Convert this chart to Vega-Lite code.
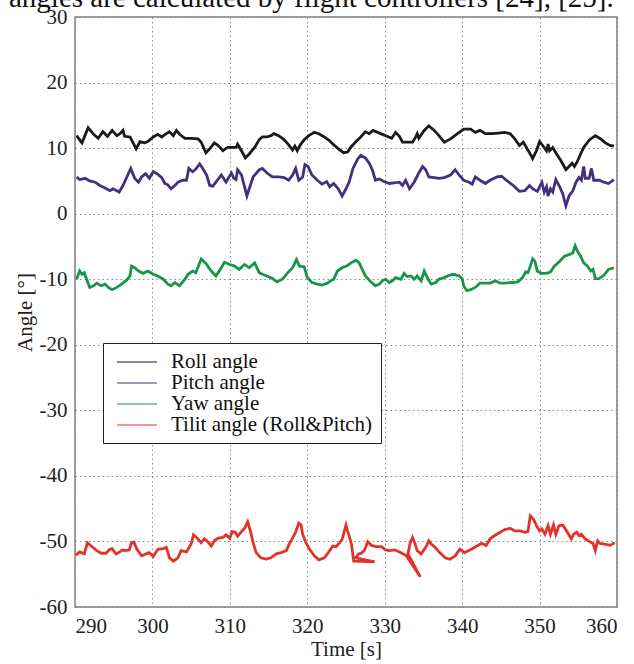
{
  "$schema": "https://vega.github.io/schema/vega-lite/v6.json",
  "width": 542,
  "height": 590,
  "autosize": {"type": "none"},
  "padding": {"left": 75, "top": 17, "right": 17, "bottom": 57},
  "title": {"text": "angles are calculated by flight controllers [24], [25].", "anchor": "start", "frame": "group", "dx": -66, "offset": -30, "baseline": "alphabetic", "fontSize": 29, "font": "Liberation Serif", "fontWeight": "normal", "color": "#111"},
  "data": {"values": [
    {"s":"Roll angle","t":290.2,"v":11.9},{"s":"Roll angle","t":290.9,"v":10.8},{"s":"Roll angle","t":291.7,"v":13.1},{"s":"Roll angle","t":292.4,"v":12.1},{"s":"Roll angle","t":293.0,"v":11.5},{"s":"Roll angle","t":293.6,"v":12.5},{"s":"Roll angle","t":294.2,"v":11.8},{"s":"Roll angle","t":294.8,"v":12.7},{"s":"Roll angle","t":295.4,"v":11.9},{"s":"Roll angle","t":295.8,"v":12.2},{"s":"Roll angle","t":296.2,"v":12.7},{"s":"Roll angle","t":296.4,"v":11.8},{"s":"Roll angle","t":297.1,"v":11.7},{"s":"Roll angle","t":297.9,"v":9.9},{"s":"Roll angle","t":298.4,"v":11.0},{"s":"Roll angle","t":299.0,"v":10.8},{"s":"Roll angle","t":299.4,"v":11.0},{"s":"Roll angle","t":300.1,"v":11.7},{"s":"Roll angle","t":300.7,"v":12.1},{"s":"Roll angle","t":301.2,"v":11.7},{"s":"Roll angle","t":301.8,"v":12.2},{"s":"Roll angle","t":302.2,"v":12.5},{"s":"Roll angle","t":302.7,"v":11.9},{"s":"Roll angle","t":303.1,"v":12.7},{"s":"Roll angle","t":303.5,"v":12.1},{"s":"Roll angle","t":304.2,"v":11.5},{"s":"Roll angle","t":305.0,"v":11.5},{"s":"Roll angle","t":305.9,"v":11.4},{"s":"Roll angle","t":306.3,"v":10.9},{"s":"Roll angle","t":306.9,"v":9.3},{"s":"Roll angle","t":307.4,"v":9.9},{"s":"Roll angle","t":308.0,"v":10.8},{"s":"Roll angle","t":308.5,"v":10.4},{"s":"Roll angle","t":309.1,"v":9.6},{"s":"Roll angle","t":309.7,"v":10.1},{"s":"Roll angle","t":310.8,"v":10.1},{"s":"Roll angle","t":311.0,"v":10.6},{"s":"Roll angle","t":311.5,"v":9.6},{"s":"Roll angle","t":312.0,"v":8.5},{"s":"Roll angle","t":312.5,"v":9.1},{"s":"Roll angle","t":313.2,"v":10.1},{"s":"Roll angle","t":313.8,"v":11.3},{"s":"Roll angle","t":314.2,"v":11.7},{"s":"Roll angle","t":314.8,"v":11.7},{"s":"Roll angle","t":315.3,"v":11.9},{"s":"Roll angle","t":315.7,"v":12.2},{"s":"Roll angle","t":316.3,"v":11.9},{"s":"Roll angle","t":317.0,"v":11.3},{"s":"Roll angle","t":317.6,"v":10.5},{"s":"Roll angle","t":318.1,"v":9.7},{"s":"Roll angle","t":318.4,"v":10.3},{"s":"Roll angle","t":318.7,"v":9.6},{"s":"Roll angle","t":319.1,"v":10.5},{"s":"Roll angle","t":319.6,"v":11.3},{"s":"Roll angle","t":320.2,"v":11.9},{"s":"Roll angle","t":320.9,"v":12.4},{"s":"Roll angle","t":321.5,"v":12.2},{"s":"Roll angle","t":322.2,"v":11.7},{"s":"Roll angle","t":322.8,"v":11.2},{"s":"Roll angle","t":323.4,"v":10.5},{"s":"Roll angle","t":324.1,"v":9.8},{"s":"Roll angle","t":324.7,"v":9.3},{"s":"Roll angle","t":325.2,"v":9.4},{"s":"Roll angle","t":325.6,"v":10.1},{"s":"Roll angle","t":326.3,"v":11.0},{"s":"Roll angle","t":326.9,"v":11.7},{"s":"Roll angle","t":327.5,"v":12.5},{"s":"Roll angle","t":328.0,"v":12.2},{"s":"Roll angle","t":328.5,"v":12.7},{"s":"Roll angle","t":329.1,"v":12.4},{"s":"Roll angle","t":329.7,"v":12.1},{"s":"Roll angle","t":330.3,"v":11.8},{"s":"Roll angle","t":330.9,"v":11.5},{"s":"Roll angle","t":331.4,"v":12.4},{"s":"Roll angle","t":331.9,"v":11.8},{"s":"Roll angle","t":332.3,"v":10.9},{"s":"Roll angle","t":332.9,"v":10.9},{"s":"Roll angle","t":333.6,"v":10.9},{"s":"Roll angle","t":334.0,"v":11.7},{"s":"Roll angle","t":334.2,"v":12.2},{"s":"Roll angle","t":334.4,"v":11.5},{"s":"Roll angle","t":335.1,"v":12.7},{"s":"Roll angle","t":335.7,"v":13.4},{"s":"Roll angle","t":336.4,"v":12.7},{"s":"Roll angle","t":337.0,"v":11.9},{"s":"Roll angle","t":337.7,"v":10.9},{"s":"Roll angle","t":338.5,"v":11.4},{"s":"Roll angle","t":339.4,"v":12.2},{"s":"Roll angle","t":340.2,"v":12.9},{"s":"Roll angle","t":341.1,"v":12.9},{"s":"Roll angle","t":341.7,"v":12.4},{"s":"Roll angle","t":342.3,"v":12.7},{"s":"Roll angle","t":343.0,"v":12.2},{"s":"Roll angle","t":343.8,"v":12.2},{"s":"Roll angle","t":344.7,"v":12.3},{"s":"Roll angle","t":345.5,"v":12.4},{"s":"Roll angle","t":346.2,"v":12.2},{"s":"Roll angle","t":346.8,"v":11.4},{"s":"Roll angle","t":347.4,"v":10.4},{"s":"Roll angle","t":347.9,"v":10.9},{"s":"Roll angle","t":348.3,"v":10.1},{"s":"Roll angle","t":348.7,"v":9.3},{"s":"Roll angle","t":349.1,"v":8.4},{"s":"Roll angle","t":349.6,"v":9.6},{"s":"Roll angle","t":350.0,"v":11.0},{"s":"Roll angle","t":350.4,"v":10.4},{"s":"Roll angle","t":350.9,"v":9.6},{"s":"Roll angle","t":351.1,"v":10.6},{"s":"Roll angle","t":351.3,"v":9.6},{"s":"Roll angle","t":351.7,"v":10.1},{"s":"Roll angle","t":352.1,"v":9.3},{"s":"Roll angle","t":352.8,"v":8.0},{"s":"Roll angle","t":353.4,"v":6.7},{"s":"Roll angle","t":353.8,"v":7.2},{"s":"Roll angle","t":354.2,"v":7.7},{"s":"Roll angle","t":354.5,"v":7.2},{"s":"Roll angle","t":354.9,"v":8.0},{"s":"Roll angle","t":355.3,"v":9.1},{"s":"Roll angle","t":355.7,"v":10.1},{"s":"Roll angle","t":356.4,"v":11.2},{"s":"Roll angle","t":357.2,"v":11.9},{"s":"Roll angle","t":357.9,"v":11.4},{"s":"Roll angle","t":358.5,"v":10.8},{"s":"Roll angle","t":359.1,"v":10.4},{"s":"Roll angle","t":359.6,"v":10.3},
    {"s":"Pitch angle","t":290.2,"v":5.6},{"s":"Pitch angle","t":290.6,"v":5.2},{"s":"Pitch angle","t":291.3,"v":5.4},{"s":"Pitch angle","t":291.9,"v":5.0},{"s":"Pitch angle","t":292.6,"v":4.8},{"s":"Pitch angle","t":293.2,"v":4.3},{"s":"Pitch angle","t":293.9,"v":3.9},{"s":"Pitch angle","t":294.5,"v":3.5},{"s":"Pitch angle","t":294.9,"v":3.8},{"s":"Pitch angle","t":295.4,"v":3.5},{"s":"Pitch angle","t":295.7,"v":3.3},{"s":"Pitch angle","t":296.2,"v":4.3},{"s":"Pitch angle","t":296.7,"v":5.6},{"s":"Pitch angle","t":297.2,"v":6.9},{"s":"Pitch angle","t":297.7,"v":5.4},{"s":"Pitch angle","t":298.2,"v":4.8},{"s":"Pitch angle","t":298.6,"v":5.6},{"s":"Pitch angle","t":299.1,"v":6.1},{"s":"Pitch angle","t":299.6,"v":5.4},{"s":"Pitch angle","t":300.1,"v":6.4},{"s":"Pitch angle","t":300.6,"v":6.1},{"s":"Pitch angle","t":301.2,"v":5.5},{"s":"Pitch angle","t":301.6,"v":4.6},{"s":"Pitch angle","t":302.0,"v":4.4},{"s":"Pitch angle","t":302.4,"v":3.8},{"s":"Pitch angle","t":302.9,"v":4.3},{"s":"Pitch angle","t":303.3,"v":4.8},{"s":"Pitch angle","t":303.9,"v":5.1},{"s":"Pitch angle","t":304.4,"v":5.1},{"s":"Pitch angle","t":304.7,"v":6.9},{"s":"Pitch angle","t":305.2,"v":6.4},{"s":"Pitch angle","t":305.6,"v":6.8},{"s":"Pitch angle","t":306.1,"v":7.6},{"s":"Pitch angle","t":306.5,"v":6.9},{"s":"Pitch angle","t":307.0,"v":5.9},{"s":"Pitch angle","t":307.4,"v":4.3},{"s":"Pitch angle","t":307.8,"v":4.2},{"s":"Pitch angle","t":308.2,"v":4.8},{"s":"Pitch angle","t":308.9,"v":5.9},{"s":"Pitch angle","t":309.5,"v":4.8},{"s":"Pitch angle","t":310.2,"v":6.2},{"s":"Pitch angle","t":310.5,"v":5.4},{"s":"Pitch angle","t":310.8,"v":5.2},{"s":"Pitch angle","t":311.0,"v":6.7},{"s":"Pitch angle","t":311.5,"v":5.9},{"s":"Pitch angle","t":311.9,"v":4.1},{"s":"Pitch angle","t":312.2,"v":2.7},{"s":"Pitch angle","t":312.5,"v":3.8},{"s":"Pitch angle","t":313.0,"v":5.6},{"s":"Pitch angle","t":313.8,"v":6.7},{"s":"Pitch angle","t":314.2,"v":6.9},{"s":"Pitch angle","t":314.8,"v":6.2},{"s":"Pitch angle","t":315.5,"v":5.6},{"s":"Pitch angle","t":316.3,"v":5.6},{"s":"Pitch angle","t":317.0,"v":5.5},{"s":"Pitch angle","t":317.6,"v":5.1},{"s":"Pitch angle","t":318.1,"v":5.9},{"s":"Pitch angle","t":318.5,"v":6.9},{"s":"Pitch angle","t":318.9,"v":5.1},{"s":"Pitch angle","t":319.4,"v":5.6},{"s":"Pitch angle","t":319.7,"v":7.5},{"s":"Pitch angle","t":320.1,"v":7.2},{"s":"Pitch angle","t":320.6,"v":5.9},{"s":"Pitch angle","t":321.3,"v":5.1},{"s":"Pitch angle","t":321.9,"v":4.5},{"s":"Pitch angle","t":322.5,"v":4.9},{"s":"Pitch angle","t":322.9,"v":4.1},{"s":"Pitch angle","t":323.4,"v":4.6},{"s":"Pitch angle","t":324.0,"v":3.8},{"s":"Pitch angle","t":324.5,"v":2.7},{"s":"Pitch angle","t":325.0,"v":3.8},{"s":"Pitch angle","t":325.4,"v":4.8},{"s":"Pitch angle","t":325.9,"v":6.9},{"s":"Pitch angle","t":326.5,"v":8.3},{"s":"Pitch angle","t":326.9,"v":8.9},{"s":"Pitch angle","t":327.5,"v":8.5},{"s":"Pitch angle","t":328.0,"v":7.7},{"s":"Pitch angle","t":328.4,"v":6.7},{"s":"Pitch angle","t":328.8,"v":5.1},{"s":"Pitch angle","t":329.3,"v":5.3},{"s":"Pitch angle","t":329.9,"v":4.9},{"s":"Pitch angle","t":330.6,"v":4.6},{"s":"Pitch angle","t":331.2,"v":4.7},{"s":"Pitch angle","t":331.9,"v":4.8},{"s":"Pitch angle","t":332.3,"v":4.3},{"s":"Pitch angle","t":332.7,"v":5.1},{"s":"Pitch angle","t":333.2,"v":3.8},{"s":"Pitch angle","t":333.8,"v":4.8},{"s":"Pitch angle","t":334.4,"v":6.2},{"s":"Pitch angle","t":334.9,"v":7.2},{"s":"Pitch angle","t":335.3,"v":6.7},{"s":"Pitch angle","t":335.7,"v":5.6},{"s":"Pitch angle","t":336.4,"v":5.5},{"s":"Pitch angle","t":337.0,"v":5.4},{"s":"Pitch angle","t":337.7,"v":5.5},{"s":"Pitch angle","t":338.5,"v":5.9},{"s":"Pitch angle","t":339.1,"v":6.7},{"s":"Pitch angle","t":339.6,"v":5.9},{"s":"Pitch angle","t":340.2,"v":5.1},{"s":"Pitch angle","t":340.9,"v":4.8},{"s":"Pitch angle","t":341.3,"v":4.5},{"s":"Pitch angle","t":341.7,"v":5.6},{"s":"Pitch angle","t":342.3,"v":5.1},{"s":"Pitch angle","t":343.0,"v":4.6},{"s":"Pitch angle","t":343.6,"v":5.1},{"s":"Pitch angle","t":344.5,"v":5.6},{"s":"Pitch angle","t":345.1,"v":5.7},{"s":"Pitch angle","t":345.7,"v":5.1},{"s":"Pitch angle","t":346.6,"v":4.3},{"s":"Pitch angle","t":347.4,"v":3.4},{"s":"Pitch angle","t":348.1,"v":3.5},{"s":"Pitch angle","t":348.7,"v":4.3},{"s":"Pitch angle","t":349.1,"v":3.8},{"s":"Pitch angle","t":349.7,"v":3.4},{"s":"Pitch angle","t":350.0,"v":4.1},{"s":"Pitch angle","t":350.3,"v":4.8},{"s":"Pitch angle","t":350.6,"v":3.3},{"s":"Pitch angle","t":350.9,"v":4.1},{"s":"Pitch angle","t":351.1,"v":2.7},{"s":"Pitch angle","t":351.4,"v":3.8},{"s":"Pitch angle","t":351.7,"v":3.3},{"s":"Pitch angle","t":352.1,"v":5.2},{"s":"Pitch angle","t":352.6,"v":4.1},{"s":"Pitch angle","t":353.0,"v":3.0},{"s":"Pitch angle","t":353.4,"v":1.2},{"s":"Pitch angle","t":353.8,"v":2.7},{"s":"Pitch angle","t":354.3,"v":3.5},{"s":"Pitch angle","t":354.7,"v":4.8},{"s":"Pitch angle","t":355.1,"v":5.5},{"s":"Pitch angle","t":355.4,"v":5.1},{"s":"Pitch angle","t":355.7,"v":7.2},{"s":"Pitch angle","t":355.9,"v":5.4},{"s":"Pitch angle","t":356.4,"v":5.4},{"s":"Pitch angle","t":356.7,"v":6.9},{"s":"Pitch angle","t":357.0,"v":5.1},{"s":"Pitch angle","t":357.7,"v":5.1},{"s":"Pitch angle","t":358.3,"v":4.8},{"s":"Pitch angle","t":358.9,"v":4.6},{"s":"Pitch angle","t":359.6,"v":5.2},
    {"s":"Yaw angle","t":290.2,"v":-10.0},{"s":"Yaw angle","t":290.6,"v":-8.75},{"s":"Yaw angle","t":290.9,"v":-9.25},{"s":"Yaw angle","t":291.2,"v":-9.0},{"s":"Yaw angle","t":291.5,"v":-10.0},{"s":"Yaw angle","t":291.9,"v":-11.25},{"s":"Yaw angle","t":292.4,"v":-11.0},{"s":"Yaw angle","t":292.8,"v":-10.6},{"s":"Yaw angle","t":293.4,"v":-11.0},{"s":"Yaw angle","t":293.9,"v":-10.75},{"s":"Yaw angle","t":294.3,"v":-11.25},{"s":"Yaw angle","t":294.8,"v":-11.6},{"s":"Yaw angle","t":295.4,"v":-11.25},{"s":"Yaw angle","t":296.0,"v":-10.75},{"s":"Yaw angle","t":296.7,"v":-10.1},{"s":"Yaw angle","t":297.1,"v":-9.5},{"s":"Yaw angle","t":297.3,"v":-8.0},{"s":"Yaw angle","t":297.7,"v":-8.25},{"s":"Yaw angle","t":298.2,"v":-8.75},{"s":"Yaw angle","t":298.8,"v":-9.1},{"s":"Yaw angle","t":299.4,"v":-8.75},{"s":"Yaw angle","t":300.1,"v":-9.25},{"s":"Yaw angle","t":300.7,"v":-9.5},{"s":"Yaw angle","t":301.4,"v":-10.0},{"s":"Yaw angle","t":302.0,"v":-10.75},{"s":"Yaw angle","t":302.4,"v":-11.0},{"s":"Yaw angle","t":302.9,"v":-10.5},{"s":"Yaw angle","t":303.5,"v":-11.0},{"s":"Yaw angle","t":304.2,"v":-10.0},{"s":"Yaw angle","t":304.6,"v":-9.25},{"s":"Yaw angle","t":305.2,"v":-8.75},{"s":"Yaw angle","t":305.6,"v":-9.0},{"s":"Yaw angle","t":306.3,"v":-6.9},{"s":"Yaw angle","t":306.9,"v":-7.6},{"s":"Yaw angle","t":307.6,"v":-8.75},{"s":"Yaw angle","t":308.2,"v":-9.5},{"s":"Yaw angle","t":308.9,"v":-8.25},{"s":"Yaw angle","t":309.3,"v":-7.4},{"s":"Yaw angle","t":310.0,"v":-7.75},{"s":"Yaw angle","t":310.6,"v":-8.0},{"s":"Yaw angle","t":311.2,"v":-8.5},{"s":"Yaw angle","t":311.9,"v":-7.75},{"s":"Yaw angle","t":312.5,"v":-8.25},{"s":"Yaw angle","t":313.2,"v":-7.5},{"s":"Yaw angle","t":313.8,"v":-9.0},{"s":"Yaw angle","t":314.2,"v":-9.25},{"s":"Yaw angle","t":314.8,"v":-9.5},{"s":"Yaw angle","t":315.5,"v":-9.9},{"s":"Yaw angle","t":316.1,"v":-10.4},{"s":"Yaw angle","t":316.8,"v":-10.0},{"s":"Yaw angle","t":317.4,"v":-9.1},{"s":"Yaw angle","t":318.1,"v":-8.25},{"s":"Yaw angle","t":318.6,"v":-7.0},{"s":"Yaw angle","t":319.0,"v":-8.0},{"s":"Yaw angle","t":319.6,"v":-8.1},{"s":"Yaw angle","t":320.0,"v":-9.75},{"s":"Yaw angle","t":320.6,"v":-10.5},{"s":"Yaw angle","t":321.3,"v":-10.75},{"s":"Yaw angle","t":321.9,"v":-10.9},{"s":"Yaw angle","t":322.6,"v":-10.6},{"s":"Yaw angle","t":323.0,"v":-10.25},{"s":"Yaw angle","t":323.4,"v":-10.0},{"s":"Yaw angle","t":323.9,"v":-8.75},{"s":"Yaw angle","t":324.5,"v":-8.25},{"s":"Yaw angle","t":325.2,"v":-7.9},{"s":"Yaw angle","t":325.8,"v":-7.4},{"s":"Yaw angle","t":326.3,"v":-7.1},{"s":"Yaw angle","t":326.7,"v":-7.5},{"s":"Yaw angle","t":327.1,"v":-8.5},{"s":"Yaw angle","t":327.5,"v":-9.5},{"s":"Yaw angle","t":328.2,"v":-10.4},{"s":"Yaw angle","t":328.8,"v":-11.0},{"s":"Yaw angle","t":329.3,"v":-10.75},{"s":"Yaw angle","t":329.7,"v":-10.25},{"s":"Yaw angle","t":330.1,"v":-10.0},{"s":"Yaw angle","t":330.6,"v":-10.5},{"s":"Yaw angle","t":331.0,"v":-10.25},{"s":"Yaw angle","t":331.4,"v":-9.75},{"s":"Yaw angle","t":332.1,"v":-10.0},{"s":"Yaw angle","t":332.5,"v":-9.1},{"s":"Yaw angle","t":332.9,"v":-9.6},{"s":"Yaw angle","t":333.4,"v":-9.5},{"s":"Yaw angle","t":333.8,"v":-10.0},{"s":"Yaw angle","t":334.2,"v":-9.5},{"s":"Yaw angle","t":334.7,"v":-10.25},{"s":"Yaw angle","t":335.1,"v":-8.75},{"s":"Yaw angle","t":335.5,"v":-9.75},{"s":"Yaw angle","t":336.0,"v":-10.75},{"s":"Yaw angle","t":336.6,"v":-10.5},{"s":"Yaw angle","t":337.0,"v":-10.0},{"s":"Yaw angle","t":337.7,"v":-9.75},{"s":"Yaw angle","t":338.3,"v":-9.4},{"s":"Yaw angle","t":338.9,"v":-9.25},{"s":"Yaw angle","t":339.6,"v":-9.5},{"s":"Yaw angle","t":340.0,"v":-9.9},{"s":"Yaw angle","t":340.2,"v":-11.0},{"s":"Yaw angle","t":340.6,"v":-11.75},{"s":"Yaw angle","t":341.1,"v":-11.6},{"s":"Yaw angle","t":341.7,"v":-11.25},{"s":"Yaw angle","t":342.3,"v":-10.6},{"s":"Yaw angle","t":343.0,"v":-10.6},{"s":"Yaw angle","t":343.6,"v":-10.6},{"s":"Yaw angle","t":344.3,"v":-10.25},{"s":"Yaw angle","t":344.9,"v":-10.6},{"s":"Yaw angle","t":345.5,"v":-10.6},{"s":"Yaw angle","t":346.4,"v":-10.5},{"s":"Yaw angle","t":347.2,"v":-10.4},{"s":"Yaw angle","t":347.8,"v":-9.75},{"s":"Yaw angle","t":348.2,"v":-8.9},{"s":"Yaw angle","t":348.5,"v":-9.0},{"s":"Yaw angle","t":348.8,"v":-8.0},{"s":"Yaw angle","t":349.1,"v":-6.9},{"s":"Yaw angle","t":349.4,"v":-7.25},{"s":"Yaw angle","t":349.7,"v":-8.75},{"s":"Yaw angle","t":350.2,"v":-9.1},{"s":"Yaw angle","t":350.9,"v":-9.1},{"s":"Yaw angle","t":351.4,"v":-8.9},{"s":"Yaw angle","t":351.9,"v":-8.0},{"s":"Yaw angle","t":352.6,"v":-7.25},{"s":"Yaw angle","t":353.2,"v":-6.5},{"s":"Yaw angle","t":353.8,"v":-6.25},{"s":"Yaw angle","t":354.3,"v":-6.0},{"s":"Yaw angle","t":354.6,"v":-4.9},{"s":"Yaw angle","t":354.9,"v":-5.75},{"s":"Yaw angle","t":355.3,"v":-6.5},{"s":"Yaw angle","t":355.7,"v":-7.5},{"s":"Yaw angle","t":356.2,"v":-8.0},{"s":"Yaw angle","t":356.6,"v":-8.75},{"s":"Yaw angle","t":356.9,"v":-8.5},{"s":"Yaw angle","t":357.2,"v":-9.9},{"s":"Yaw angle","t":357.7,"v":-9.9},{"s":"Yaw angle","t":358.3,"v":-9.4},{"s":"Yaw angle","t":358.9,"v":-8.5},{"s":"Yaw angle","t":359.6,"v":-8.25},
    {"s":"Tilit angle (Roll&Pitch)","t":290.1,"v":-52.1},{"s":"Tilit angle (Roll&Pitch)","t":290.6,"v":-51.6},{"s":"Tilit angle (Roll&Pitch)","t":291.2,"v":-51.9},{"s":"Tilit angle (Roll&Pitch)","t":291.6,"v":-50.2},{"s":"Tilit angle (Roll&Pitch)","t":292.1,"v":-50.7},{"s":"Tilit angle (Roll&Pitch)","t":292.8,"v":-51.4},{"s":"Tilit angle (Roll&Pitch)","t":293.4,"v":-51.8},{"s":"Tilit angle (Roll&Pitch)","t":294.0,"v":-51.8},{"s":"Tilit angle (Roll&Pitch)","t":294.5,"v":-51.2},{"s":"Tilit angle (Roll&Pitch)","t":294.8,"v":-51.1},{"s":"Tilit angle (Roll&Pitch)","t":295.3,"v":-51.9},{"s":"Tilit angle (Roll&Pitch)","t":295.8,"v":-51.6},{"s":"Tilit angle (Roll&Pitch)","t":296.1,"v":-51.3},{"s":"Tilit angle (Roll&Pitch)","t":296.4,"v":-51.4},{"s":"Tilit angle (Roll&Pitch)","t":297.0,"v":-51.3},{"s":"Tilit angle (Roll&Pitch)","t":297.3,"v":-50.2},{"s":"Tilit angle (Roll&Pitch)","t":297.6,"v":-50.1},{"s":"Tilit angle (Roll&Pitch)","t":298.0,"v":-51.2},{"s":"Tilit angle (Roll&Pitch)","t":298.6,"v":-52.2},{"s":"Tilit angle (Roll&Pitch)","t":299.2,"v":-51.9},{"s":"Tilit angle (Roll&Pitch)","t":299.6,"v":-51.7},{"s":"Tilit angle (Roll&Pitch)","t":300.1,"v":-52.3},{"s":"Tilit angle (Roll&Pitch)","t":300.7,"v":-51.2},{"s":"Tilit angle (Roll&Pitch)","t":301.4,"v":-51.1},{"s":"Tilit angle (Roll&Pitch)","t":301.8,"v":-50.9},{"s":"Tilit angle (Roll&Pitch)","t":302.2,"v":-52.5},{"s":"Tilit angle (Roll&Pitch)","t":302.7,"v":-53.0},{"s":"Tilit angle (Roll&Pitch)","t":303.3,"v":-52.5},{"s":"Tilit angle (Roll&Pitch)","t":303.7,"v":-51.4},{"s":"Tilit angle (Roll&Pitch)","t":304.4,"v":-51.6},{"s":"Tilit angle (Roll&Pitch)","t":305.0,"v":-50.4},{"s":"Tilit angle (Roll&Pitch)","t":305.3,"v":-49.0},{"s":"Tilit angle (Roll&Pitch)","t":305.8,"v":-49.5},{"s":"Tilit angle (Roll&Pitch)","t":306.3,"v":-50.2},{"s":"Tilit angle (Roll&Pitch)","t":306.7,"v":-49.6},{"s":"Tilit angle (Roll&Pitch)","t":307.2,"v":-50.1},{"s":"Tilit angle (Roll&Pitch)","t":307.6,"v":-50.7},{"s":"Tilit angle (Roll&Pitch)","t":308.0,"v":-49.9},{"s":"Tilit angle (Roll&Pitch)","t":308.5,"v":-49.5},{"s":"Tilit angle (Roll&Pitch)","t":309.1,"v":-49.4},{"s":"Tilit angle (Roll&Pitch)","t":309.5,"v":-49.0},{"s":"Tilit angle (Roll&Pitch)","t":310.0,"v":-49.5},{"s":"Tilit angle (Roll&Pitch)","t":310.3,"v":-48.5},{"s":"Tilit angle (Roll&Pitch)","t":310.7,"v":-48.6},{"s":"Tilit angle (Roll&Pitch)","t":311.0,"v":-49.2},{"s":"Tilit angle (Roll&Pitch)","t":311.5,"v":-48.5},{"s":"Tilit angle (Roll&Pitch)","t":311.9,"v":-48.0},{"s":"Tilit angle (Roll&Pitch)","t":312.3,"v":-47.0},{"s":"Tilit angle (Roll&Pitch)","t":312.7,"v":-48.6},{"s":"Tilit angle (Roll&Pitch)","t":313.0,"v":-50.2},{"s":"Tilit angle (Roll&Pitch)","t":313.4,"v":-51.7},{"s":"Tilit angle (Roll&Pitch)","t":314.0,"v":-52.5},{"s":"Tilit angle (Roll&Pitch)","t":314.7,"v":-52.7},{"s":"Tilit angle (Roll&Pitch)","t":315.3,"v":-52.5},{"s":"Tilit angle (Roll&Pitch)","t":316.0,"v":-51.9},{"s":"Tilit angle (Roll&Pitch)","t":316.6,"v":-51.7},{"s":"Tilit angle (Roll&Pitch)","t":317.3,"v":-51.4},{"s":"Tilit angle (Roll&Pitch)","t":317.7,"v":-50.3},{"s":"Tilit angle (Roll&Pitch)","t":318.1,"v":-49.5},{"s":"Tilit angle (Roll&Pitch)","t":318.5,"v":-48.6},{"s":"Tilit angle (Roll&Pitch)","t":318.9,"v":-47.2},{"s":"Tilit angle (Roll&Pitch)","t":319.2,"v":-47.5},{"s":"Tilit angle (Roll&Pitch)","t":319.4,"v":-48.9},{"s":"Tilit angle (Roll&Pitch)","t":319.8,"v":-50.1},{"s":"Tilit angle (Roll&Pitch)","t":320.3,"v":-51.2},{"s":"Tilit angle (Roll&Pitch)","t":320.9,"v":-52.2},{"s":"Tilit angle (Roll&Pitch)","t":321.5,"v":-52.8},{"s":"Tilit angle (Roll&Pitch)","t":322.2,"v":-52.5},{"s":"Tilit angle (Roll&Pitch)","t":322.6,"v":-51.9},{"s":"Tilit angle (Roll&Pitch)","t":323.3,"v":-50.7},{"s":"Tilit angle (Roll&Pitch)","t":323.7,"v":-50.8},{"s":"Tilit angle (Roll&Pitch)","t":324.1,"v":-50.3},{"s":"Tilit angle (Roll&Pitch)","t":324.5,"v":-49.7},{"s":"Tilit angle (Roll&Pitch)","t":324.8,"v":-48.4},{"s":"Tilit angle (Roll&Pitch)","t":325.0,"v":-47.5},{"s":"Tilit angle (Roll&Pitch)","t":325.2,"v":-48.4},{"s":"Tilit angle (Roll&Pitch)","t":325.4,"v":-49.1},{"s":"Tilit angle (Roll&Pitch)","t":325.7,"v":-50.4},{"s":"Tilit angle (Roll&Pitch)","t":326.0,"v":-53.0},{"s":"Tilit angle (Roll&Pitch)","t":328.7,"v":-53.1},{"s":"Tilit angle (Roll&Pitch)","t":326.25,"v":-52.5},{"s":"Tilit angle (Roll&Pitch)","t":326.6,"v":-51.9},{"s":"Tilit angle (Roll&Pitch)","t":327.0,"v":-51.8},{"s":"Tilit angle (Roll&Pitch)","t":327.4,"v":-51.3},{"s":"Tilit angle (Roll&Pitch)","t":327.8,"v":-50.05},{"s":"Tilit angle (Roll&Pitch)","t":328.3,"v":-50.6},{"s":"Tilit angle (Roll&Pitch)","t":328.9,"v":-50.8},{"s":"Tilit angle (Roll&Pitch)","t":329.6,"v":-50.8},{"s":"Tilit angle (Roll&Pitch)","t":330.1,"v":-51.3},{"s":"Tilit angle (Roll&Pitch)","t":330.6,"v":-51.4},{"s":"Tilit angle (Roll&Pitch)","t":331.3,"v":-51.3},{"s":"Tilit angle (Roll&Pitch)","t":331.9,"v":-51.6},{"s":"Tilit angle (Roll&Pitch)","t":332.4,"v":-51.9},{"s":"Tilit angle (Roll&Pitch)","t":332.8,"v":-52.2},{"s":"Tilit angle (Roll&Pitch)","t":334.6,"v":-55.4},{"s":"Tilit angle (Roll&Pitch)","t":333.0,"v":-51.9},{"s":"Tilit angle (Roll&Pitch)","t":333.3,"v":-50.15},{"s":"Tilit angle (Roll&Pitch)","t":333.6,"v":-49.4},{"s":"Tilit angle (Roll&Pitch)","t":333.9,"v":-50.3},{"s":"Tilit angle (Roll&Pitch)","t":334.2,"v":-51.4},{"s":"Tilit angle (Roll&Pitch)","t":334.7,"v":-51.9},{"s":"Tilit angle (Roll&Pitch)","t":335.3,"v":-50.9},{"s":"Tilit angle (Roll&Pitch)","t":335.7,"v":-49.9},{"s":"Tilit angle (Roll&Pitch)","t":336.0,"v":-50.4},{"s":"Tilit angle (Roll&Pitch)","t":336.5,"v":-50.9},{"s":"Tilit angle (Roll&Pitch)","t":337.1,"v":-51.7},{"s":"Tilit angle (Roll&Pitch)","t":337.8,"v":-52.5},{"s":"Tilit angle (Roll&Pitch)","t":338.4,"v":-52.7},{"s":"Tilit angle (Roll&Pitch)","t":339.1,"v":-52.2},{"s":"Tilit angle (Roll&Pitch)","t":339.7,"v":-51.2},{"s":"Tilit angle (Roll&Pitch)","t":340.3,"v":-51.7},{"s":"Tilit angle (Roll&Pitch)","t":341.2,"v":-51.2},{"s":"Tilit angle (Roll&Pitch)","t":341.9,"v":-50.7},{"s":"Tilit angle (Roll&Pitch)","t":342.5,"v":-50.3},{"s":"Tilit angle (Roll&Pitch)","t":343.1,"v":-50.6},{"s":"Tilit angle (Roll&Pitch)","t":343.6,"v":-49.6},{"s":"Tilit angle (Roll&Pitch)","t":344.2,"v":-49.1},{"s":"Tilit angle (Roll&Pitch)","t":344.9,"v":-48.6},{"s":"Tilit angle (Roll&Pitch)","t":345.5,"v":-48.2},{"s":"Tilit angle (Roll&Pitch)","t":346.2,"v":-48.0},{"s":"Tilit angle (Roll&Pitch)","t":346.8,"v":-48.4},{"s":"Tilit angle (Roll&Pitch)","t":347.5,"v":-48.4},{"s":"Tilit angle (Roll&Pitch)","t":348.1,"v":-48.6},{"s":"Tilit angle (Roll&Pitch)","t":348.5,"v":-48.5},{"s":"Tilit angle (Roll&Pitch)","t":348.8,"v":-46.1},{"s":"Tilit angle (Roll&Pitch)","t":349.2,"v":-46.6},{"s":"Tilit angle (Roll&Pitch)","t":349.6,"v":-47.6},{"s":"Tilit angle (Roll&Pitch)","t":350.0,"v":-48.4},{"s":"Tilit angle (Roll&Pitch)","t":350.3,"v":-48.1},{"s":"Tilit angle (Roll&Pitch)","t":350.7,"v":-48.9},{"s":"Tilit angle (Roll&Pitch)","t":351.1,"v":-47.6},{"s":"Tilit angle (Roll&Pitch)","t":351.4,"v":-48.9},{"s":"Tilit angle (Roll&Pitch)","t":351.8,"v":-47.5},{"s":"Tilit angle (Roll&Pitch)","t":352.1,"v":-48.9},{"s":"Tilit angle (Roll&Pitch)","t":352.5,"v":-47.6},{"s":"Tilit angle (Roll&Pitch)","t":353.0,"v":-47.5},{"s":"Tilit angle (Roll&Pitch)","t":353.5,"v":-48.4},{"s":"Tilit angle (Roll&Pitch)","t":354.1,"v":-49.6},{"s":"Tilit angle (Roll&Pitch)","t":354.4,"v":-48.9},{"s":"Tilit angle (Roll&Pitch)","t":354.8,"v":-48.6},{"s":"Tilit angle (Roll&Pitch)","t":355.1,"v":-49.1},{"s":"Tilit angle (Roll&Pitch)","t":355.4,"v":-48.9},{"s":"Tilit angle (Roll&Pitch)","t":355.9,"v":-49.6},{"s":"Tilit angle (Roll&Pitch)","t":356.5,"v":-50.05},{"s":"Tilit angle (Roll&Pitch)","t":356.9,"v":-50.3},{"s":"Tilit angle (Roll&Pitch)","t":357.2,"v":-51.4},{"s":"Tilit angle (Roll&Pitch)","t":357.5,"v":-49.9},{"s":"Tilit angle (Roll&Pitch)","t":357.8,"v":-50.3},{"s":"Tilit angle (Roll&Pitch)","t":358.4,"v":-50.4},{"s":"Tilit angle (Roll&Pitch)","t":359.1,"v":-50.6},{"s":"Tilit angle (Roll&Pitch)","t":359.7,"v":-50.2}
  ]},
  "mark": {"type": "line", "strokeWidth": 2.8, "clip": true},
  "encoding": {
    "x": {"field": "t", "type": "quantitative", "scale": {"domain": [290, 360], "nice": false, "zero": false},
      "axis": {"values": [290,300,310,320,330,340,350,360], "format": "d", "title": "Time [s]", "labelPadding": 8, "titlePadding": 2, "labelFont": "Liberation Serif", "labelFontSize": 21, "titleFont": "Liberation Serif", "titleFontSize": 21}},
    "y": {"field": "v", "type": "quantitative", "scale": {"domain": [-60, 30], "nice": false, "zero": false},
      "axis": {"values": [-60,-50,-40,-30,-20,-10,0,10,20,30], "labelExpr": "replace(format(datum.value, 'd'), '\u2212', '-')", "title": "Angle [°]", "labelPadding": 8, "titlePadding": 4, "labelFont": "Liberation Serif", "labelFontSize": 21, "titleFont": "Liberation Serif", "titleFontSize": 21}},
    "color": {"field": "s", "type": "nominal",
      "scale": {"domain": ["Roll angle", "Pitch angle", "Yaw angle", "Tilit angle (Roll&Pitch)"], "range": ["#1a1a1a", "#45307f", "#17954a", "#e2332a"]},
      "legend": {"orient": "none", "legendX": 28, "legendY": 326, "title": null, "labelFont": "Liberation Serif", "labelFontSize": 21, "labelLimit": 400, "labelColor": "#111", "symbolType": "M-2,0H2", "symbolSize": 400, "symbolStrokeWidth": 1.2, "symbolOffset": 15, "labelOffset": 23, "rowPadding": 0, "padding": 8, "strokeColor": "#222", "fillColor": "white"}},
    "order": {"value": null}
  },
  "config": {
    "font": "Liberation Serif",
    "style": {"guide-label": {"font": "Liberation Serif"}, "guide-title": {"font": "Liberation Serif"}},
    "view": {"stroke": "#808080", "strokeWidth": 1.5},
    "axis": {"grid": true, "gridDash": [1.5, 3], "gridColor": "#8a8a8a", "gridWidth": 1, "domain": false, "ticks": false,
      "labelFont": "Liberation Serif", "labelFontSize": 21, "labelColor": "#222",
      "titleFont": "Liberation Serif", "titleFontSize": 21, "titleFontWeight": "normal", "titleColor": "#222"},
    "legend": {"labelFont": "Liberation Serif"}
  }
}
